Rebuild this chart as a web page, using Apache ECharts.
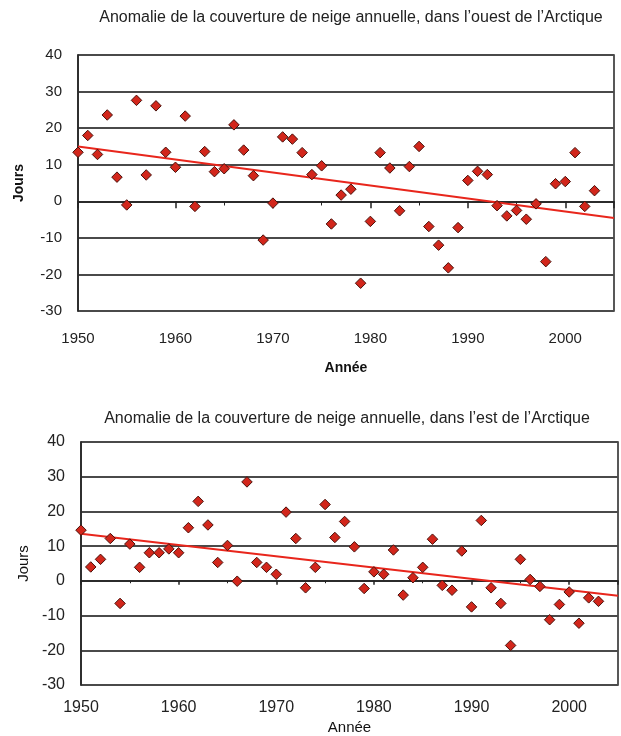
<!DOCTYPE html>
<html>
<head>
<meta charset="utf-8">
<script src="https://cdn.jsdelivr.net/npm/echarts@6/dist/echarts.min.js"></script>
<style>html,body{margin:0;padding:0;background:#fff}#c{width:621px;height:736px}</style>
</head>
<body>
<div id="c"></div>
<script>
// ---- data ----
const years = [1950,1951,1952,1953,1954,1955,1956,1957,1958,1959,1960,1961,1962,1963,1964,1965,1966,1967,1968,1969,1970,1971,1972,1973,1974,1975,1976,1977,1978,1979,1980,1981,1982,1983,1984,1985,1986,1987,1988,1989,1990,1991,1992,1993,1994,1995,1996,1997,1998,1999,2000,2001,2002,2003];
const westValues = [13.4,18.0,12.8,23.6,6.6,-1.0,27.6,7.2,26.1,13.4,9.3,23.3,-1.4,13.6,8.1,8.9,20.9,14.0,7.0,-10.6,-0.5,17.6,17.0,13.3,7.3,9.7,-6.2,1.7,3.3,-22.4,-5.5,13.3,9.1,-2.6,9.5,15.0,-6.9,-12.0,-18.2,-7.2,5.7,8.2,7.3,-1.2,-4.0,-2.5,-4.9,-0.7,-16.5,4.8,5.4,13.3,-1.4,2.9];
const eastValues = [14.6,4.0,6.2,12.2,-6.5,10.6,3.9,8.1,8.1,9.2,8.1,15.3,22.9,16.1,5.3,10.2,-0.1,28.5,5.3,3.9,1.9,19.8,12.2,-2.0,3.9,22.0,12.5,17.1,9.8,-2.2,2.6,1.9,8.9,-4.1,0.9,3.9,12.0,-1.3,-2.7,8.6,-7.5,17.4,-2.0,-6.5,-18.6,6.2,0.4,-1.6,-11.2,-6.8,-3.2,-12.2,-4.9,-5.9];
const trendYears = [1950, 2005];
const westTrend = [15.0, -4.6];
const eastTrend = [13.6, -4.3];
const xTicks = [1950,1960,1970,1980,1990,2000];
const yTicks = [-30,-20,-10,0,10,20,30,40];
const title1 = "Anomalie de la couverture de neige annuelle, dans l\u2019ouest de l\u2019Arctique";
const title2 = "Anomalie de la couverture de neige annuelle, dans l\u2019est de l\u2019Arctique";
const xName = "Ann\u00e9e";
const yName = "Jours";

// ---- chart ----
const FONT = "'Liberation Sans', Arial, Helvetica, sans-serif";
const pair = (xs, ys) => xs.map((x, i) => [x, ys[i]]);

function xAxis(gi, fs, margin, nameGap, bold, tickLen) {
  return {
    type: 'value', gridIndex: gi, min: 1950, max: 2005, interval: 10,
    axisLine: { show: true, lineStyle: { color: '#222', width: 1.5 } },
    axisTick: { show: true, length: tickLen, lineStyle: { color: '#222', width: 1.5 } },
    minorTick: { show: true, splitNumber: 2, length: tickLen * 0.6, lineStyle: { color: '#222', width: 1 } },
    splitLine: { show: false },
    axisLabel: { fontSize: fs, color: '#222', fontFamily: FONT, margin: margin,
      formatter: v => (xTicks.indexOf(v) >= 0 ? String(v) : '') },
    name: xName, nameLocation: 'middle', nameGap: nameGap,
    nameTextStyle: { fontSize: fs - 1, color: '#111', fontFamily: FONT, fontWeight: bold ? 'bold' : 'normal' }
  };
}
function yAxis(gi, fs, nameGap, bold) {
  return {
    type: 'value', gridIndex: gi, min: -30, max: 40, interval: 10,
    axisLine: { show: true, lineStyle: { color: '#222', width: 1.5 } },
    axisTick: { show: false },
    splitLine: { show: true, lineStyle: { color: '#4a4a4a', width: 1.8 } },
    axisLabel: { fontSize: fs, color: '#222', fontFamily: FONT, margin: 16,
      formatter: v => (yTicks.indexOf(v) >= 0 ? String(v) : '') },
    name: yName, nameLocation: 'middle', nameGap: nameGap, nameRotate: 90,
    nameTextStyle: { fontSize: fs - 1, color: '#111', fontFamily: FONT, fontWeight: bold ? 'bold' : 'normal' }
  };
}
const markerStyle = { color: '#d2261b', borderColor: '#4a120c', borderWidth: 1, opacity: 1 };
const trendStyle = { color: '#e8261c', width: 2 };

const chart = echarts.init(document.getElementById('c'), null, { renderer: 'canvas' });
chart.setOption({
  backgroundColor: '#fff',
  animation: false,
  graphic: [
    { type: 'text', x: 351, y: 18, style: { text: title1, fill: '#222', font: '16px ' + FONT, textAlign: 'center', textVerticalAlign: 'middle' } },
    { type: 'text', x: 347, y: 419, style: { text: title2, fill: '#222', font: '16px ' + FONT, textAlign: 'center', textVerticalAlign: 'middle' } }
  ],
  grid: [
    { left: 78, top: 55, width: 536, height: 256, show: true, borderColor: '#222', borderWidth: 1.5, backgroundColor: '#fff' },
    { left: 81, top: 442, width: 538, height: 248, show: true, borderColor: '#222', borderWidth: 1.5, backgroundColor: '#fff' }
  ],
  xAxis: [ xAxis(0, 15, 20, 50, true, 7), xAxis(1, 16, 15, 35, false, 4) ],
  yAxis: [ yAxis(0, 15, 52, true), yAxis(1, 16, 34, false) ],
  series: [
    { type: 'line', xAxisIndex: 0, yAxisIndex: 0, data: pair(trendYears, westTrend), showSymbol: false, lineStyle: trendStyle, z: 2 },
    { type: 'scatter', xAxisIndex: 0, yAxisIndex: 0, data: pair(years, westValues), symbol: 'diamond', symbolSize: 10.5, itemStyle: markerStyle, z: 3 },
    { type: 'line', xAxisIndex: 1, yAxisIndex: 1, data: pair(trendYears, eastTrend), showSymbol: false, lineStyle: trendStyle, z: 2 },
    { type: 'scatter', xAxisIndex: 1, yAxisIndex: 1, data: pair(years, eastValues), symbol: 'diamond', symbolSize: 10.5, itemStyle: markerStyle, z: 3 }
  ]
});
</script>
</body>
</html>
